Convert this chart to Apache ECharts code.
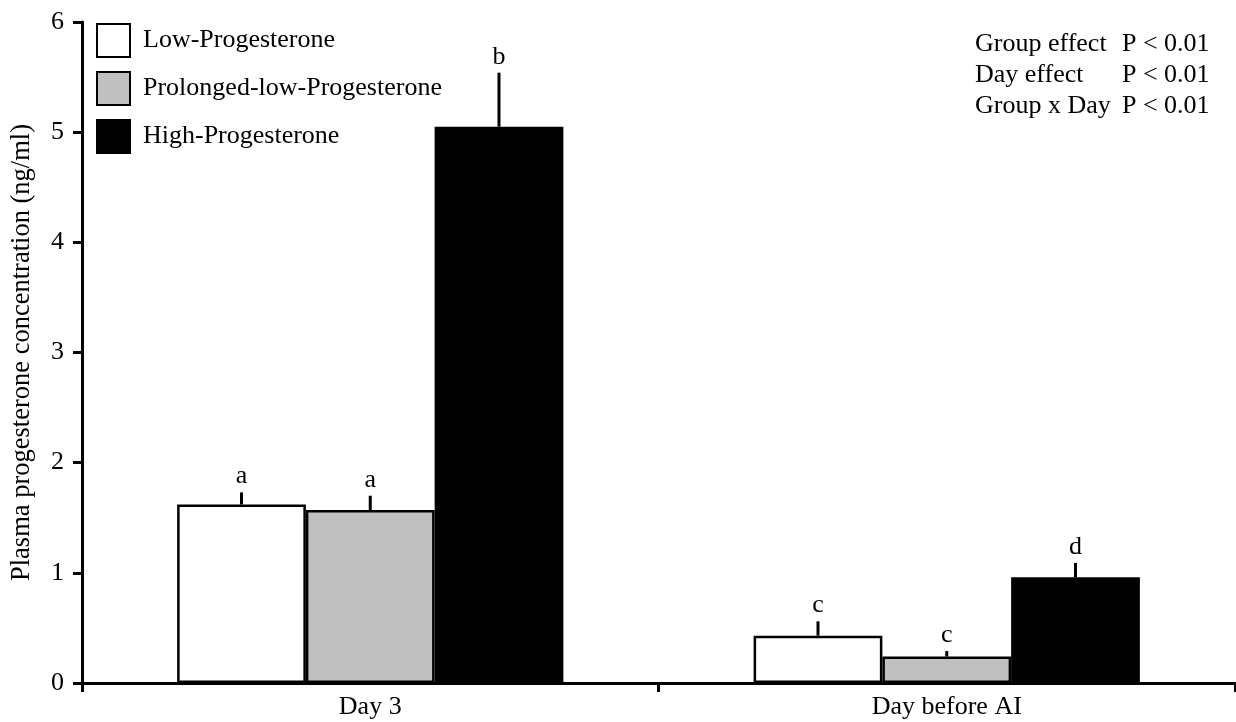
<!DOCTYPE html>
<html>
<head>
<meta charset="utf-8">
<script src="https://cdn.jsdelivr.net/npm/echarts@6/dist/echarts.min.js"></script>
<style>html,body{margin:0;padding:0;background:#fff;}#c{width:1236px;height:722px;}</style>
</head>
<body>
<div id="c"></div>
<script>
var categories = ['Day 3', 'Day before AI'];
var groups = ['Low-Progesterone', 'Prolonged-low-Progesterone', 'High-Progesterone'];
var lowMean = [1.62, 0.43];
var prolongedMean = [1.57, 0.24];
var highMean = [5.05, 0.96];
var lowErrTop = [1.73, 0.56];
var prolongedErrTop = [1.70, 0.29];
var highErrTop = [5.54, 1.09];
var lowLetters = ['a', 'c'];
var prolongedLetters = ['a', 'c'];
var highLetters = ['b', 'd'];
var yTicks = [0, 1, 2, 3, 4, 5, 6];
var statsLabels = ['Group effect', 'Day effect', 'Group x Day'];
var statsValues = ['P < 0.01', 'P < 0.01', 'P < 0.01'];

var FONT = '"Liberation Serif", "Times New Roman", serif';
var FS = 26;
var colors = ['#ffffff', '#c0c0c0', '#000000'];
var means = [lowMean, prolongedMean, highMean];
var errs = [lowErrTop, prolongedErrTop, highErrTop];
var letters = [lowLetters, prolongedLetters, highLetters];
var CAT_GAP = 0.33;

var series = [];
groups.forEach(function (g, gi) {
  series.push({
    name: g,
    type: 'bar',
    data: means[gi],
    barGap: '0%',
    barCategoryGap: (CAT_GAP * 100) + '%',
    itemStyle: { color: colors[gi], borderColor: '#000', borderWidth: 2.5 },
    emphasis: { disabled: true },
    z: 2
  });
});

var errData = [];
groups.forEach(function (g, gi) {
  categories.forEach(function (c, ci) {
    errData.push([ci, gi, means[gi][ci], errs[gi][ci], letters[gi][ci]]);
  });
});

series.push({
  type: 'custom',
  data: errData,
  encode: { x: 0, y: 3 },
  z: 5,
  silent: true,
  renderItem: function (params, api) {
    var ci = api.value(0), gi = api.value(1), m = api.value(2), e = api.value(3);
    var letter = errData[params.dataIndex][4];
    var band = api.size([1, 0])[0];
    var barW = band * (1 - CAT_GAP) / 3;
    var off = (gi - 1) * barW;
    var p0 = api.coord([ci, m]);
    var p1 = api.coord([ci, e]);
    var x = p0[0] + off;
    return {
      type: 'group',
      children: [
        { type: 'line', shape: { x1: x, y1: p0[1], x2: x, y2: p1[1] }, style: { stroke: '#000', lineWidth: 3 } },
        { type: 'text', style: { x: x, y: p1[1] - 16, text: letter, textAlign: 'center', textVerticalAlign: 'middle', font: FS + 'px ' + FONT, fill: '#000' } }
      ]
    };
  }
});

var graphics = [];
statsLabels.forEach(function (s, i) {
  graphics.push({ type: 'text', x: 975, y: 44 + i * 31, style: { text: s, font: FS + 'px ' + FONT, fill: '#000', textVerticalAlign: 'middle' } });
  graphics.push({ type: 'text', x: 1122, y: 44 + i * 31, style: { text: statsValues[i], font: FS + 'px ' + FONT, fill: '#000', textVerticalAlign: 'middle' } });
});

var chart = echarts.init(document.getElementById('c'));
chart.setOption({
  animation: false,
  backgroundColor: '#fff',
  textStyle: { fontFamily: FONT },
  grid: { left: 82, right: 1, top: 22, bottom: 39, containLabel: false, outerBoundsMode: 'none' },
  legend: {
    data: groups,
    orient: 'vertical',
    left: 91,
    top: 18,
    itemWidth: 33,
    itemHeight: 33,
    itemGap: 13,
    icon: 'rect',
    textStyle: { fontFamily: FONT, fontSize: FS, color: '#000', padding: [0, 0, 0, 8] },
    selectedMode: false
  },
  xAxis: {
    type: 'category',
    data: categories,
    axisLine: { lineStyle: { color: '#000', width: 3 } },
    axisTick: { show: true, length: 9, lineStyle: { color: '#000', width: 3 } },
    axisLabel: { fontFamily: FONT, fontSize: FS, color: '#000', margin: 11 }
  },
  yAxis: {
    type: 'value',
    min: yTicks[0],
    max: yTicks[yTicks.length - 1],
    interval: 1,
    name: 'Plasma progesterone concentration (ng/ml)',
    nameLocation: 'middle',
    nameGap: 46,
    nameTextStyle: { fontFamily: FONT, fontSize: 26.5, color: '#000' },
    splitLine: { show: false },
    axisLine: { show: true, lineStyle: { color: '#000', width: 3 } },
    axisTick: { show: true, length: 9, lineStyle: { color: '#000', width: 3 } },
    axisLabel: { fontFamily: FONT, fontSize: FS, color: '#000', margin: 18 }
  },
  graphic: graphics,
  series: series
});
</script>
</body>
</html>
